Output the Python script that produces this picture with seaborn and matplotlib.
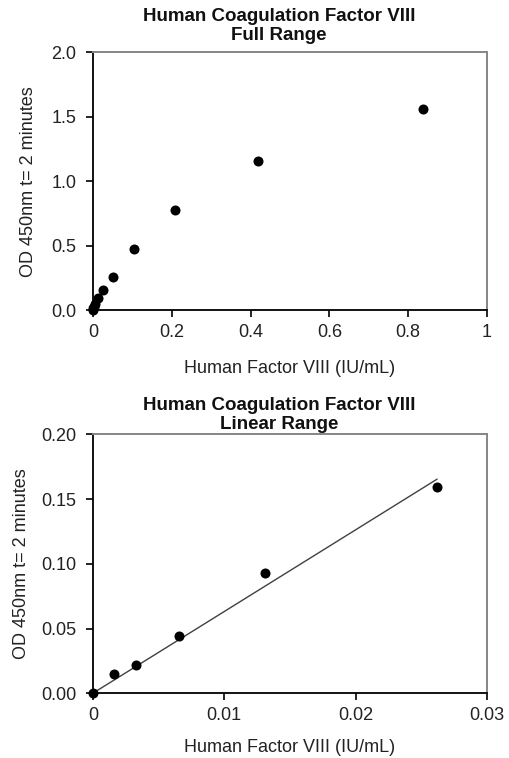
import matplotlib
matplotlib.use("Agg")
import matplotlib.pyplot as plt
import matplotlib.ticker as mticker
import numpy as np
import pandas as pd
import seaborn as sns


# full range standard curve
FULL_CONC = [0.838, 0.419, 0.2095, 0.105, 0.0524, 0.0262, 0.0131, 0.00655, 0.00327, 0.00164, 0.0]
FULL_OD = [1.558, 1.156, 0.778, 0.472, 0.257, 0.156, 0.093, 0.0445, 0.022, 0.015, 0.0]

# linear range subset
LIN_CONC = [0.0262, 0.0131, 0.00655, 0.00327, 0.00164, 0.0]
LIN_OD = [0.159, 0.093, 0.0445, 0.022, 0.015, 0.0]

TITLE_MAIN = "Human Coagulation Factor VIII"
X_LABEL = "Human Factor VIII (IU/mL)"
Y_LABEL = "OD 450nm t= 2 minutes"


def general_fmt(v, pos):
    return f"{v:g}"


def style_axes(ax, xlim, ylim, xticks, yticks, yfmt, xlabelpad, ylabelpad):
    ax.set_xlim(*xlim)
    ax.set_ylim(*ylim)
    ax.set_xticks(xticks)
    ax.set_yticks(yticks)
    ax.xaxis.set_major_formatter(mticker.FuncFormatter(general_fmt))
    ax.yaxis.set_major_formatter(mticker.FormatStrFormatter(yfmt))
    for side in ["top", "right"]:
        ax.spines[side].set_color("#868686")
        ax.spines[side].set_linewidth(1.4)
    for side in ["left", "bottom"]:
        ax.spines[side].set_color("black")
        ax.spines[side].set_linewidth(1.3)
    ax.tick_params(direction="out", length=5, width=1.2, colors="black",
                   labelsize=13, labelcolor="#222222")
    ax.tick_params(axis="y", pad=7)
    ax.tick_params(axis="x", pad=5)
    ax.set_xlabel(X_LABEL, fontsize=13, color="#222222", labelpad=xlabelpad)
    ax.set_ylabel(Y_LABEL, fontsize=13, color="#222222", labelpad=ylabelpad)


def main():
    sns.set_theme(style="ticks")
    plt.rcParams["font.family"] = ["Liberation Sans", "DejaVu Sans"]

    fig = plt.figure(figsize=(5.1, 7.58), dpi=100)
    ax1 = fig.add_axes([0.182, 0.591, 0.773, 0.340])
    ax2 = fig.add_axes([0.182, 0.0854, 0.773, 0.3416])

    full = pd.DataFrame({"conc": FULL_CONC, "od": FULL_OD})
    lin = pd.DataFrame({"conc": LIN_CONC, "od": LIN_OD})

    sns.scatterplot(data=full, x="conc", y="od", ax=ax1, color="black",
                    s=52, edgecolor="black", linewidth=0, clip_on=False, zorder=3)
    style_axes(ax1, (0, 1), (0, 2.0), [0, 0.2, 0.4, 0.6, 0.8, 1.0],
               [0.0, 0.5, 1.0, 1.5, 2.0], "%.1f", 14, 10)
    ax1.set_title(TITLE_MAIN + "\nFull Range", fontsize=13.5, fontweight="bold",
                  color="#111111", x=0.4725, pad=9, linespacing=1.15)

    # trendline forced through origin
    x = np.array(LIN_CONC)
    y = np.array(LIN_OD)
    slope = np.sum(x * y) / np.sum(x * x)
    xs = np.array([0.0, x.max()])
    ax2.plot(xs, slope * xs, color="#404040", linewidth=1.0, zorder=2)
    sns.scatterplot(data=lin, x="conc", y="od", ax=ax2, color="black",
                    s=52, edgecolor="black", linewidth=0, clip_on=False, zorder=3)
    style_axes(ax2, (0, 0.03), (0, 0.20), [0, 0.01, 0.02, 0.03],
               [0.0, 0.05, 0.10, 0.15, 0.20], "%.2f", 10.5, 8)
    ax2.set_title(TITLE_MAIN + "\nLinear Range", fontsize=13.5, fontweight="bold",
                  color="#111111", x=0.4725, pad=4, linespacing=1.15)

    fig.savefig("out.png", dpi=100)


if __name__ == "__main__":
    main()
